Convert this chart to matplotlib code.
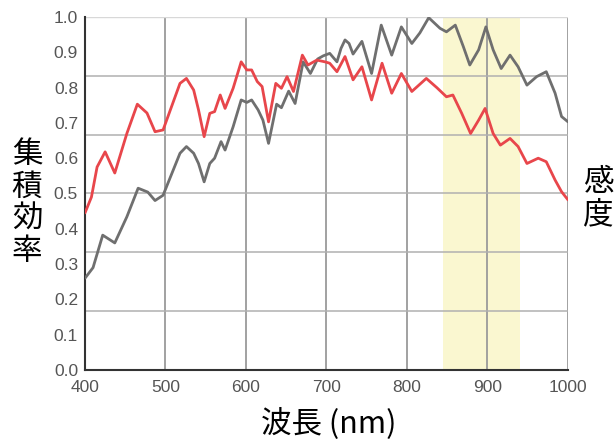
import matplotlib
matplotlib.use("Agg")
import matplotlib.pyplot as plt

# --- data ---
red_nm = [400, 408, 415, 425, 437, 452, 465, 477, 487, 497, 518, 526, 535, 541, 548, 555,
          561, 568, 574, 584, 594, 601, 607, 614, 620, 628, 637, 644, 651, 659, 670, 677,
          688, 698, 704, 713, 723, 733, 744, 756, 769, 781, 793, 806, 824, 837, 849, 857,
          868, 879, 889, 897, 907, 916, 928, 938, 949, 963, 973, 984, 992, 1000]
red_val = [0.445, 0.49, 0.575, 0.618, 0.558, 0.67, 0.753, 0.728, 0.675, 0.68, 0.812, 0.826,
           0.793, 0.737, 0.661, 0.727, 0.732, 0.779, 0.741, 0.798, 0.873, 0.85, 0.85, 0.817,
           0.803, 0.703, 0.812, 0.798, 0.831, 0.789, 0.892, 0.864, 0.878, 0.873, 0.869, 0.845,
           0.888, 0.822, 0.859, 0.765, 0.869, 0.784, 0.84, 0.789, 0.826, 0.80, 0.774, 0.779,
           0.727, 0.670, 0.708, 0.741, 0.670, 0.637, 0.656, 0.633, 0.585, 0.60, 0.59, 0.538,
           0.505, 0.482]

gray_nm = [400, 410, 422, 437, 452, 466, 478, 487, 497, 518, 526, 535, 541, 548, 555, 561,
           569, 574, 584, 594, 601, 607, 615, 621, 628, 638, 644, 653, 661, 671, 680, 689,
           696, 704, 713, 718, 723, 728, 733, 744, 756, 768, 781, 793, 806, 816, 827, 841,
           849, 860, 870, 878, 889, 898, 907, 917, 928, 938, 949, 961, 973, 984, 992, 1000]
gray_val = [0.26, 0.29, 0.382, 0.36, 0.434, 0.515, 0.504, 0.48, 0.495, 0.614, 0.633, 0.614,
            0.585, 0.533, 0.585, 0.60, 0.647, 0.623, 0.689, 0.765, 0.758, 0.765, 0.737, 0.708,
            0.642, 0.753, 0.743, 0.79, 0.755, 0.873, 0.84, 0.881, 0.89, 0.897, 0.873, 0.911,
            0.935, 0.925, 0.895, 0.931, 0.84, 0.977, 0.892, 0.972, 0.925, 0.955, 0.998, 0.968,
            0.958, 0.977, 0.916, 0.864, 0.907, 0.972, 0.907, 0.854, 0.892, 0.859, 0.807, 0.831,
            0.845, 0.784, 0.718, 0.703]

x_ticks = [400, 500, 600, 700, 800, 900, 1000]
y_ticks = [0.0, 0.1, 0.2, 0.3, 0.4, 0.5, 0.6, 0.7, 0.8, 0.9, 1.0]
band = (845, 940)

plt.rcParams['font.family'] = ['Noto Sans CJK JP', 'DejaVu Sans']

fig = plt.figure(figsize=(6.14, 4.47), dpi=100)
ax = fig.add_axes([85/614, 77/447, 483/614, 353/447])

ax.axvspan(band[0], band[1], color='#FAF7D0', zorder=0, lw=0)

# grid
for xv in [500, 600, 700, 800, 900, 1000]:
    ax.axvline(xv, color='#9a9a9a', lw=1.3, zorder=1)
for k in range(1, 6):
    ax.axhline(k / 6, color='#b0b0b0', lw=1.1, zorder=1)
ax.axhline(1.0, color='#d8d8d8', lw=1.0, zorder=1)

ax.plot(gray_nm, gray_val, color='#6f6f6f', lw=2.0, zorder=3,
        solid_joinstyle='round', solid_capstyle='round')
ax.plot(red_nm, red_val, color='#E8464B', lw=2.0, zorder=4,
        solid_joinstyle='round', solid_capstyle='round')

ax.set_xlim(400, 1000)
ax.set_ylim(0, 1.0)
ax.set_xticks(x_ticks)
ax.set_yticks(y_ticks)
ax.set_xticklabels([str(v) for v in x_ticks], family='Liberation Sans', fontsize=12.5, color='#555555')
ax.set_yticklabels([f"{v:.1f}" for v in y_ticks], family='Liberation Sans', fontsize=12.5, color='#555555')
ax.tick_params(length=0, pad=5)
ax.tick_params(axis='x', pad=7)

for s in ['top', 'right']:
    ax.spines[s].set_visible(False)
ax.spines['left'].set_color('#333333')
ax.spines['bottom'].set_color('#333333')
ax.spines['left'].set_linewidth(1.5)
ax.spines['bottom'].set_linewidth(1.5)

fig.text(27/614, 1 - 203/447, "集\n積\n効\n率", ha='center', va='center', fontsize=22,
         linespacing=1.05, color='black')
fig.text(598/614, 1 - 199/447, "感\n度", ha='center', va='center', fontsize=22,
         linespacing=1.05, color='black')
fig.text(329/614, 1 - 424/447, "波長 (nm)", ha='center', va='center', fontsize=22, color='black')

fig.savefig("out.png", dpi=100)
